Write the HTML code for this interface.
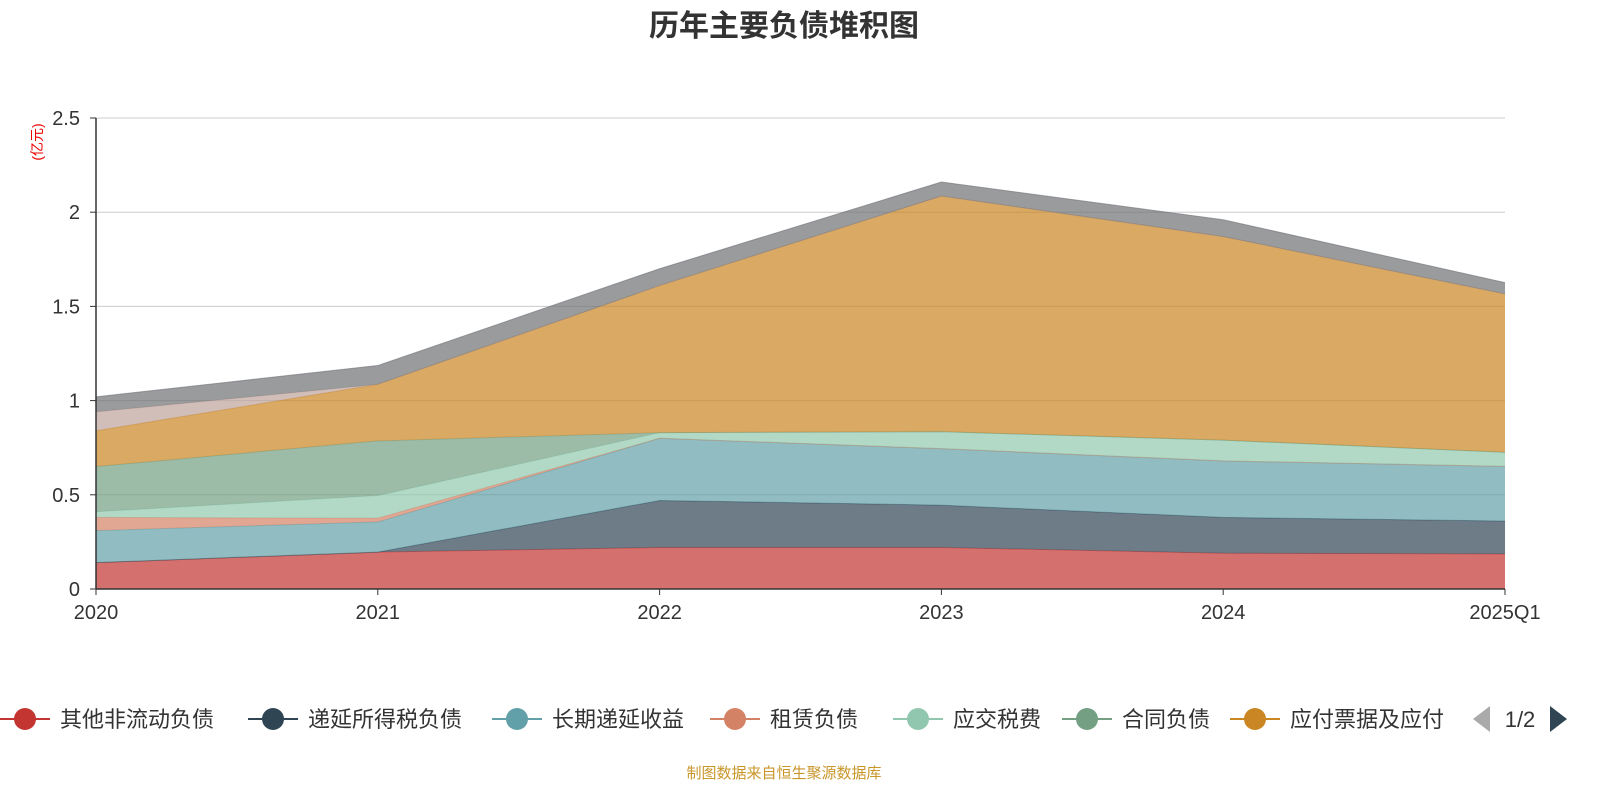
<!DOCTYPE html>
<html><head><meta charset="utf-8">
<style>
body{margin:0;background:#fff;font-family:"Liberation Sans","Noto Sans CJK SC",sans-serif;}
svg text{font-family:"Liberation Sans","Noto Sans CJK SC",sans-serif;}
</style></head>
<body>
<svg id="chart" width="1600" height="800" xmlns="http://www.w3.org/2000/svg">
<text x="784" y="36" text-anchor="middle" font-size="30" font-weight="bold" fill="#333">历年主要负债堆积图</text>
<text transform="translate(42,142) rotate(-90)" text-anchor="middle" font-size="14" fill="#e00">(亿元)</text>
<g id="grid"></g>
<g id="areas"></g>
<g id="axes"></g>
<g id="legend"></g>
<text x="784" y="778" text-anchor="middle" font-size="15" fill="#c9962a">制图数据来自恒生聚源数据库</text>
</svg>
<script>
const categories=["2020","2021","2022","2023","2024","2025Q1"];
const yTicks=[0,0.5,1,1.5,2,2.5];
const yTickLabels=["0","0.5","1","1.5","2","2.5"];
const seriesNames=["其他非流动负债","递延所得税负债","长期递延收益","租赁负债","应交税费","合同负债","应付票据及应付","其他负债1","其他负债2"];
const s0=[0.14,0.196,0.22,0.22,0.19,0.186];
const s1=[0,0,0.25,0.225,0.19,0.175];
const s2=[0.17,0.16,0.33,0.30,0.30,0.29];
const s3=[0.07,0.02,0,0,0,0];
const s4=[0.03,0.12,0.03,0.09,0.11,0.075];
const s5=[0.24,0.29,0,0,0,0];
const s6=[0.19,0.30,0.78,1.25,1.08,0.84];
const s7=[0.10,0,0,0,0,0];
const s8=[0.08,0.10,0.09,0.075,0.09,0.06];
const series=[s0,s1,s2,s3,s4,s5,s6,s7,s8];
const colors=["#c23531","#2f4554","#61a0a8","#d48265","#91c7ae","#749f83","#ca8622","#bda29a","#6e7074"];
const NS="http://www.w3.org/2000/svg";
const X0=96,X1=1505,Y0=589,Y1=118,YMAX=2.5;
const xs=i=>X0+(X1-X0)*i/(categories.length-1);
const ys=v=>Y0-(Y0-Y1)*v/YMAX;
function mk(tag,attrs,parent){const e=document.createElementNS(NS,tag);for(const k in attrs)e.setAttribute(k,attrs[k]);parent.appendChild(e);return e;}
const grid=document.getElementById('grid'),areas=document.getElementById('areas'),axes=document.getElementById('axes'),legend=document.getElementById('legend');
yTicks.forEach((t,i)=>{
  if(t>0){const l=mk('line',{x1:X0,x2:X1,y1:ys(t),y2:ys(t),stroke:'#ccc','stroke-width':1},grid);
  
  }
  const tk=mk('line',{x1:X0-6,x2:X0,y1:ys(t),y2:ys(t),stroke:'#333'},axes);
  
  
  const tx=mk('text',{x:X0-16,y:ys(t)+7,'text-anchor':'end','font-size':20,fill:'#333'},axes);
  tx.textContent=yTickLabels[i];
  
  
});
let base=categories.map(()=>0);
series.forEach((s,si)=>{
  const top=base.map((b,i)=>b+s[i]);
  let d='M'+top.map((v,i)=>xs(i)+','+ys(v)).join(' L');
  for(let i=base.length-1;i>=0;i--)d+=' L'+xs(i)+','+ys(base[i]);
  d+='Z';
  const p=mk('path',{d:d,fill:colors[si],'fill-opacity':0.7,stroke:'none'},areas);
  
  
  const ln=mk('polyline',{points:top.map((v,i)=>xs(i)+','+ys(v)).join(' '),fill:'none',stroke:colors[si],'stroke-width':1,'stroke-opacity':0.6},areas);
  
  
  base=top;
});
const ax=mk('line',{x1:X0,x2:X1,y1:Y0,y2:Y0,stroke:'#333','stroke-width':1.5},axes);


const ay=mk('line',{x1:X0,x2:X0,y1:Y0,y2:Y1,stroke:'#333','stroke-width':1.5},axes);


categories.forEach((c,i)=>{
  const tk=mk('line',{x1:xs(i),x2:xs(i),y1:Y0,y2:Y0+6,stroke:'#333'},axes);
  
  
  const tx=mk('text',{x:xs(i),y:Y0+30,'text-anchor':'middle','font-size':20,fill:'#333'},axes);
  tx.textContent=c;
  
  
});
const legX=[25,273,517,735,918,1087,1255];
for(let i=0;i<7;i++){
  const g=mk('g',{},legend);
  
  
  mk('line',{x1:legX[i]-25,x2:legX[i]+25,y1:719,y2:719,stroke:colors[i],'stroke-width':2},g);
  mk('circle',{cx:legX[i],cy:719,r:11,fill:colors[i]},g);
  const t=mk('text',{x:legX[i]+35,y:727,'font-size':22,fill:'#333'},g);
  t.textContent=seriesNames[i];
}
const pl=mk('path',{d:'M1490,706 L1473,719 L1490,732Z',fill:'#aaa'},legend);


const pt=mk('text',{x:1520,y:727,'text-anchor':'middle','font-size':22,fill:'#333'},legend);
pt.textContent='1/2';


const pr=mk('path',{d:'M1550,706 L1567,719 L1550,732Z',fill:'#2f4554'},legend);


</script>
</body></html>
